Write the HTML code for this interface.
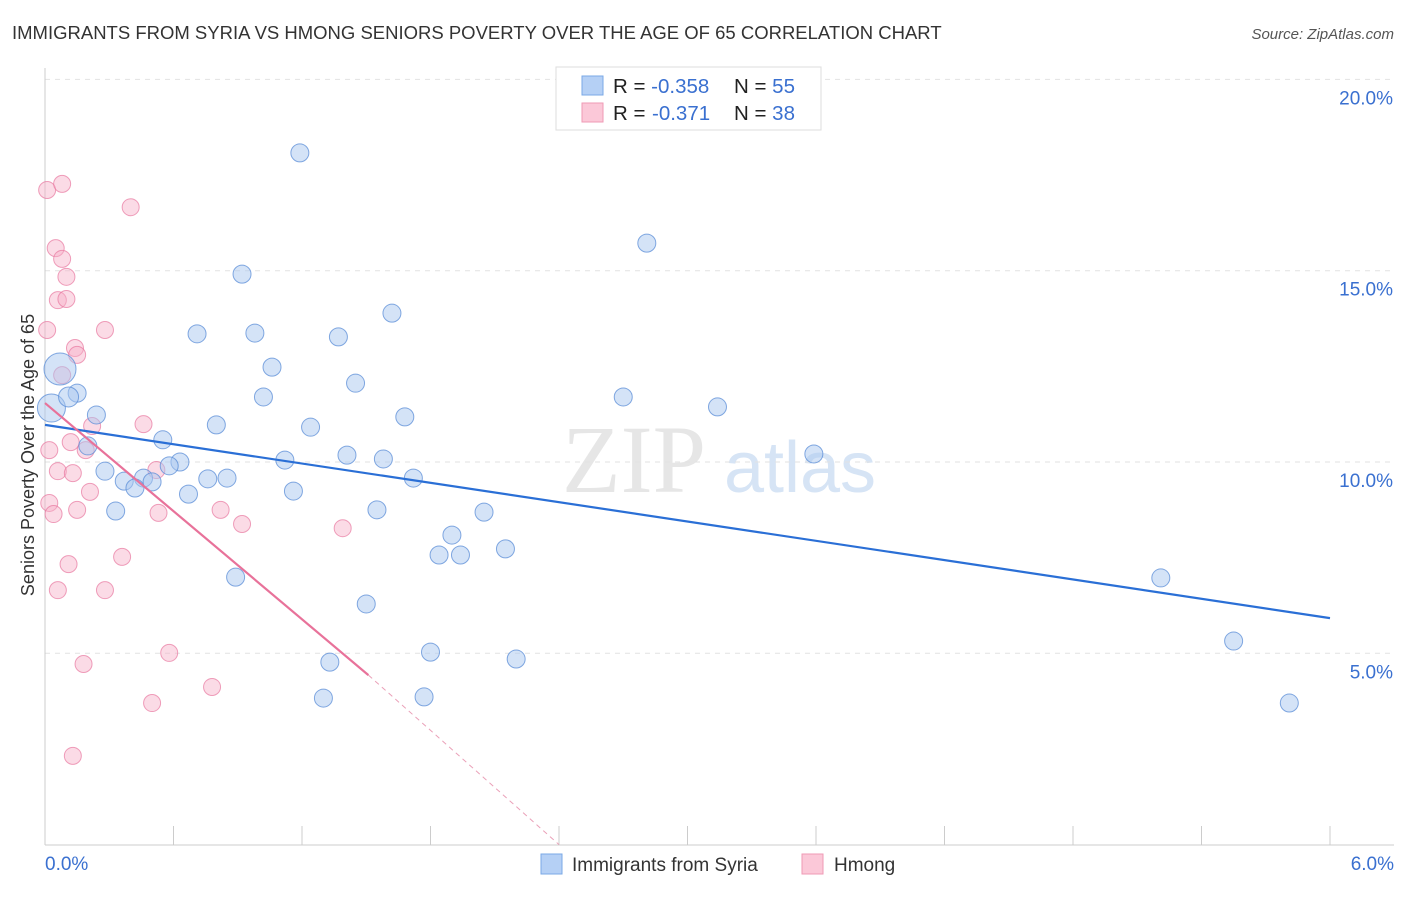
<!DOCTYPE html>
<html><head><meta charset="utf-8"><style>
body{margin:0;background:#fff;font-family:"Liberation Sans",sans-serif}
</style></head><body>
<svg id="c" width="1406" height="892" xmlns="http://www.w3.org/2000/svg">
<text x="12" y="39" font-size="18.5" fill="#333">IMMIGRANTS FROM SYRIA VS HMONG SENIORS POVERTY OVER THE AGE OF 65 CORRELATION CHART</text>
<text x="1394" y="39" font-size="15" fill="#555" font-style="italic" text-anchor="end">Source: ZipAtlas.com</text>
<text x="634" y="492" font-size="96" fill="#e6e6e6" font-family="Liberation Serif" text-anchor="middle">ZIP</text>
<text x="800" y="492" font-size="72" fill="#d6e4f5" text-anchor="middle">atlas</text>
<text transform="translate(34,455) rotate(-90)" font-size="18" fill="#333" text-anchor="middle">Seniors Poverty Over the Age of 65</text>
<g id="grid"></g><g id="pts"></g><g id="lines"></g>
<g>
<rect x="556" y="67" width="265" height="63" fill="#fff" stroke="#ddd"/>
<rect x="582" y="76" width="21" height="19" fill="#b5d0f5" stroke="#7aa8e6"/>
<rect x="582" y="103" width="21" height="19" fill="#fbc8d8" stroke="#ef9ab5"/>
<text x="613" y="93" font-size="20.5" fill="#222">R = <tspan fill="#3a70d0">-0.358</tspan><tspan x="734">N = </tspan><tspan fill="#3a70d0">55</tspan></text>
<text x="613" y="120" font-size="20.5" fill="#222">R = <tspan x="652" fill="#3a70d0">-0.371</tspan><tspan x="734">N = </tspan><tspan fill="#3a70d0">38</tspan></text>
</g>
<g>
<rect x="541" y="854" width="21" height="20" fill="#b5d0f5" stroke="#7aa8e6"/>
<text x="572" y="871" font-size="19" fill="#333">Immigrants from Syria</text>
<rect x="802" y="854" width="21" height="20" fill="#fbc8d8" stroke="#ef9ab5"/>
<text x="834" y="871" font-size="19" fill="#333">Hmong</text>
</g>
</svg>
<script>
const yTicks=[5,10,15,20];
const yTickLabels=["5.0%","10.0%","15.0%","20.0%"];
const xTickLabels=["0.0%","6.0%"];
const syriaX=[1.19,2.81,0.92,1.62,0.71,0.98,1.37,1.06,1.45,2.70,1.02,0.15,3.14,0.24,1.68,0.80,1.24,0.55,0.20,1.41,3.59,1.12,1.58,0.63,0.58,0.28,0.46,0.76,0.85,1.72,0.37,0.50,0.42,1.16,0.67,0.33,1.55,2.05,1.90,2.15,1.84,1.94,0.89,5.21,1.50,5.55,1.80,2.20,1.33,1.30,1.77,5.81,0.07,0.03,0.11];
const syriaY=[18.08,15.72,14.91,13.89,13.35,13.37,13.27,12.48,12.06,11.70,11.70,11.80,11.44,11.23,11.18,10.97,10.91,10.58,10.42,10.18,10.21,10.05,10.08,10.00,9.90,9.76,9.58,9.56,9.58,9.58,9.50,9.48,9.32,9.24,9.16,8.72,8.75,8.69,8.09,7.73,7.57,7.57,6.99,6.97,6.29,5.32,5.03,4.85,4.77,3.83,3.86,3.70,12.43,11.41,11.70];
const syriaSize=[9,9,9,9,9,9,9,9,9,9,9,9,9,9,9,9,9,9,9,9,9,9,9,9,9,9,9,9,9,9,9,9,9,9,9,9,9,9,9,9,9,9,9,9,9,9,9,9,9,9,9,9,16,14,10];
const hmongX=[0.01,0.08,0.40,0.05,0.08,0.10,0.06,0.10,0.01,0.28,0.14,0.15,0.08,0.22,0.46,0.12,0.19,0.02,0.06,0.13,0.52,0.21,0.02,0.04,0.15,0.53,0.82,0.92,1.39,0.36,0.11,0.06,0.28,0.58,0.18,0.78,0.50,0.13];
const hmongY=[17.11,17.27,16.66,15.59,15.31,14.84,14.23,14.26,13.45,13.45,12.98,12.80,12.27,10.94,10.99,10.52,10.31,10.31,9.76,9.71,9.79,9.22,8.93,8.64,8.75,8.67,8.75,8.38,8.27,7.52,7.33,6.65,6.65,5.01,4.72,4.12,3.70,2.32];
const syriaTrend=[10.97,5.92];
const hmongTrend=[11.54,4.43,1.51,2.40];
const X0=45,X1=1330,Y0=844.6,YS=191.3/5;
const sx=v=>X0+(v/6)*(X1-X0), sy=v=>Y0-v*YS;
const NS="http://www.w3.org/2000/svg";
function mk(t,a,p){const e=document.createElementNS(NS,t);for(const k in a)e.setAttribute(k,a[k]);p.appendChild(e);return e;}
const g=document.getElementById('grid');
yTicks.forEach((t,i)=>{
 const l=mk('line',{x1:X0,x2:1394,y1:sy(t),y2:sy(t),stroke:'#e2e2e2','stroke-dasharray':'5,5'},g);
 
 
 const tx=mk('text',{x:1393,y:sy(t)+25,'font-size':19,fill:'#3a70d0','text-anchor':'end'},g);tx.textContent=yTickLabels[i];
 
 
});
mk('line',{x1:X0,x2:X0,y1:68,y2:845,stroke:'#ccc'},g);
mk('line',{x1:X0,x2:1394,y1:845,y2:845,stroke:'#ccc'},g);
for(let i=0;i<=10;i++){const t=mk('line',{x1:sx(i*0.6),x2:sx(i*0.6),y1:826,y2:845,stroke:'#ccc'},g);
 
 }
[[0,45,'start'],[1,1394,'end']].forEach(([i,x,a])=>{const t=mk('text',{x:x,y:870,'font-size':19,fill:'#3a70d0','text-anchor':a},g);t.textContent=xTickLabels[i];
 
 });
const p=document.getElementById('pts');
hmongX.forEach((x,i)=>{const c=mk('circle',{cx:sx(x),cy:sy(hmongY[i]),r:8.5,fill:'rgba(246,176,200,0.45)',stroke:'rgba(232,120,160,0.7)','stroke-width':1},p);
 
 });
syriaX.forEach((x,i)=>{const c=mk('circle',{cx:sx(x),cy:sy(syriaY[i]),r:syriaSize[i],fill:'rgba(170,200,240,0.5)',stroke:'rgba(90,140,215,0.75)','stroke-width':1},p);
 
 });
const L=document.getElementById('lines');
const b=mk('line',{x1:sx(0),y1:sy(syriaTrend[0]),x2:sx(6),y2:sy(syriaTrend[1]),stroke:'#2a6fd6','stroke-width':2.2},L);


const h=mk('line',{x1:sx(0),y1:sy(hmongTrend[0]),x2:sx(hmongTrend[2]),y2:sy(hmongTrend[1]),stroke:'#e8729a','stroke-width':2.2},L);


const hd=mk('line',{x1:sx(hmongTrend[2]),y1:sy(hmongTrend[1]),x2:sx(hmongTrend[3]),y2:sy(0),stroke:'#eaa0b8','stroke-width':1,'stroke-dasharray':'5,4'},L);


</script>
</body></html>
